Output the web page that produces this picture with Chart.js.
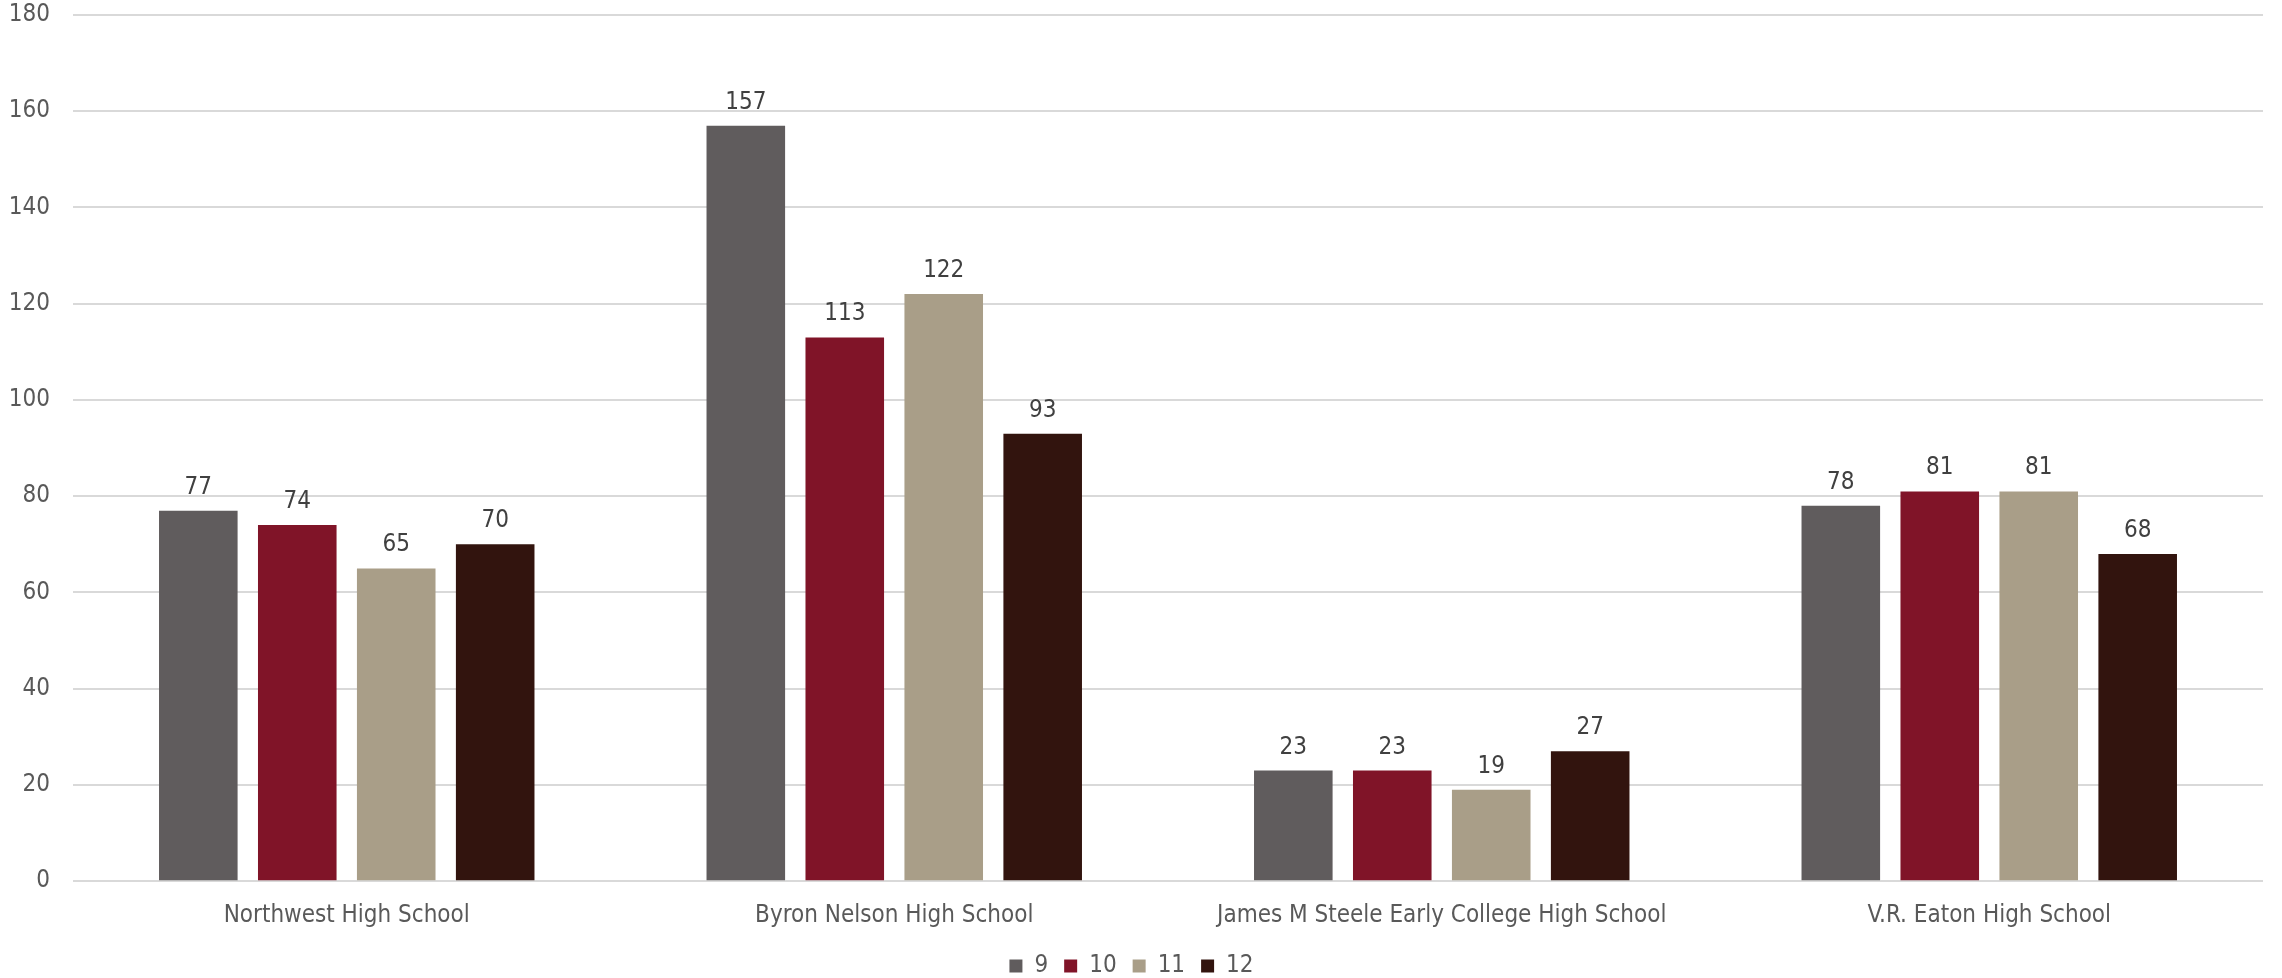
<!DOCTYPE html>
<html>
<head>
<meta charset="utf-8">
<script src="https://cdn.jsdelivr.net/npm/chart.js@4/dist/chart.umd.min.js"></script>
<style>
  html, body { margin: 0; padding: 0; background: #fff; }
  #wrap { width: 2282px; height: 978px; }
</style>
</head>
<body>
<div id="wrap"><canvas id="gradeChart"></canvas></div>
<script>
// Enrollment by grade per school
const schools = ['Northwest High School', 'Byron Nelson High School', 'James M Steele Early College High School', 'V.R. Eaton High School'];
const grades = ['9', '10', '11', '12'];
const grade9 = [77, 157, 23, 78];
const grade10 = [74, 113, 23, 81];
const grade11 = [65, 122, 19, 81];
const grade12 = [70, 93, 27, 68];
const yTicks = [0, 20, 40, 60, 80, 100, 120, 140, 160, 180];

const colors = ['#605c5d', '#801428', '#a99e88', '#32140e'];
const fontFamily = '"DejaVu Sans Condensed", "DejaVu Sans", sans-serif';

// simple value labels above each bar
const barLabels = {
  id: 'barLabels',
  afterDatasetsDraw(chart) {
    const ctx = chart.ctx;
    ctx.save();
    ctx.font = '24px ' + fontFamily;
    ctx.fillStyle = '#404040';
    ctx.textAlign = 'center';
    ctx.textBaseline = 'alphabetic';
    chart.data.datasets.forEach((ds, i) => {
      chart.getDatasetMeta(i).data.forEach((bar, j) => {
        ctx.fillText(ds.data[j], bar.x, bar.y - 17);
      });
    });
    ctx.restore();
  }
};

new Chart(document.getElementById('gradeChart'), {
  type: 'bar',
  data: {
    labels: schools,
    datasets: [grade9, grade10, grade11, grade12].map((d, i) => ({
      label: grades[i],
      data: d,
      backgroundColor: colors[i],
      categoryPercentage: 0.723,
      barPercentage: 0.794
    }))
  },
  options: {
    responsive: true,
    maintainAspectRatio: false,
    devicePixelRatio: 1,
    animation: false,
    layout: { padding: { top: 15, right: 19, bottom: -10, left: 0 } },
    plugins: {
      tooltip: { enabled: false },
      legend: {
        position: 'bottom',
        labels: {
          boxWidth: 13,
          boxHeight: 13,
          padding: 16,
          color: '#595959',
          font: { family: fontFamily, size: 24 }
        }
      }
    },
    scales: {
      x: {
        grid: { display: false },
        border: { display: false },
        afterFit: scale => { scale.height = scale.height - 5; },
        ticks: {
          color: '#595959',
          padding: 12.5,
          maxRotation: 0,
          font: { family: fontFamily, size: 24 }
        }
      },
      y: {
        min: 0,
        max: 180,
        afterBuildTicks: scale => { scale.ticks = yTicks.map(v => ({ value: v })); },
        afterFit: scale => {
          scale.width = 73;
          scale.paddingTop = 0;
          scale.paddingBottom = 0;
        },
        grid: { color: '#d9d9d9', lineWidth: 2, drawTicks: false },
        border: { display: false },
        ticks: {
          color: '#595959',
          padding: 23,
          font: { family: fontFamily, size: 24 }
        }
      }
    }
  },
  plugins: [barLabels]
});
</script>
</body>
</html>
